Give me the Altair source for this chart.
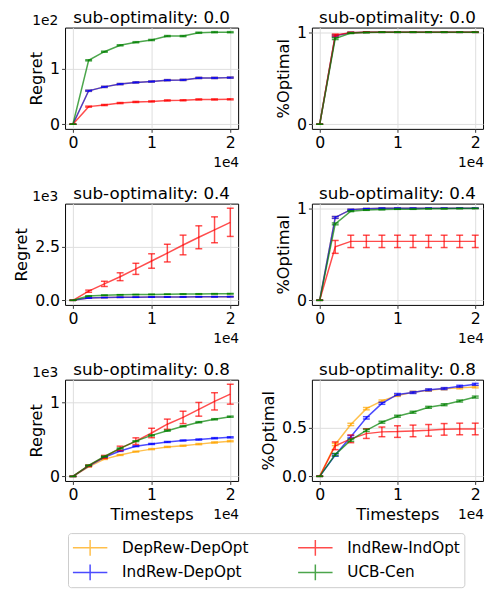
import altair as alt
import pandas as pd

# ---------------- data ----------------
T = [0, 2000, 4000, 6000, 8000, 10000, 12000, 14000, 16000, 18000, 20000]

ALGOS = ["DepRew-DepOpt", "IndRew-DepOpt", "IndRew-IndOpt", "UCB-Cen"]
ALGO_COLORS = ["#FFA500", "#0000FF", "#FF0000", "#008000"]

# sub-optimality 0.0, Regret
reg00_dep = [0, 60, 67, 72, 75, 76.6, 79, 79.5, 83, 83, 83.6]
reg00_inddep = [0, 60, 67, 72, 75, 76.6, 79, 79.5, 83, 83, 83.6]
reg00_indind = [0, 31.6, 34.5, 38, 40, 41, 42.7, 43, 44.5, 44.5, 44.7]
reg00_ucb = [0, 114.6, 130, 141.5, 147, 151, 158, 158, 164, 165, 165]
reg00_err = [0, 1, 1, 1, 1, 1, 1, 1, 1, 1, 1]

# sub-optimality 0.0, %Optimal
opt00_dep = [0, 0.96, 0.995, 1, 1, 1, 1, 1, 1, 1, 1]
opt00_inddep = [0, 0.96, 0.995, 1, 1, 1, 1, 1, 1, 1, 1]
opt00_indind = [0, 0.97, 0.995, 1, 1, 1, 1, 1, 1, 1, 1]
opt00_ucb = [0, 0.93, 0.99, 0.997, 1, 1, 1, 1, 1, 1, 1]
opt00_err = [0, 0.01, 0.005, 0.003, 0.002, 0.002, 0.002, 0.002, 0.002, 0.002, 0.002]

# sub-optimality 0.4, Regret
reg04_dep = [0, 110, 130, 140, 148, 153, 157, 161, 165, 168, 170]
reg04_inddep = [0, 110, 130, 140, 148, 153, 157, 161, 165, 168, 170]
reg04_indind = [0, 428, 770, 1105, 1473, 1840, 2210, 2590, 2950, 3300, 3650]
reg04_ucb = [0, 200, 240, 260, 270, 278, 285, 292, 298, 303, 308]
reg04_err_small = [0, 5, 6, 7, 8, 9, 10, 11, 12, 13, 14]
reg04_err_indind = [0, 50, 122, 184, 260, 338, 414, 460, 537, 606, 660]

# sub-optimality 0.4, %Optimal
opt04_dep = [0, 0.90, 0.985, 0.995, 1, 1, 1, 1, 1, 1, 1]
opt04_inddep = [0, 0.90, 0.985, 0.995, 1, 1, 1, 1, 1, 1, 1]
opt04_indind = [0, 0.58, 0.64, 0.64, 0.64, 0.64, 0.64, 0.64, 0.64, 0.64, 0.64]
opt04_ucb = [0, 0.83, 0.968, 0.98, 0.985, 0.99, 0.99, 0.995, 0.995, 0.997, 0.998]
opt04_err_small = [0, 0.01, 0.005, 0.003, 0.002, 0.002, 0.002, 0.002, 0.002, 0.002, 0.002]
opt04_err_indind = [0, 0.07, 0.067, 0.067, 0.067, 0.067, 0.067, 0.067, 0.067, 0.067, 0.067]

# sub-optimality 0.8, Regret
reg08_dep = [0, 130, 235, 290, 336, 370, 400, 416, 438, 460, 478]
reg08_inddep = [0, 140, 260, 345, 410, 440, 467, 487, 500, 518, 530]
reg08_indind = [0, 146, 265, 380, 478, 589, 708, 800, 910, 1018, 1115]
reg08_ucb = [0, 150, 270, 380, 478, 557, 620, 680, 735, 775, 810]
reg08_err_small = [0, 4, 5, 6, 6, 7, 7, 7, 8, 8, 8]
reg08_err_indind = [0, 10, 20, 30, 45, 64, 69, 84, 93, 117, 135]

# sub-optimality 0.8, %Optimal
opt08_dep = [0, 0.33, 0.537, 0.70, 0.78, 0.837, 0.87, 0.89, 0.905, 0.915, 0.925]
opt08_inddep = [0, 0.22, 0.41, 0.605, 0.755, 0.847, 0.867, 0.895, 0.908, 0.932, 0.952]
opt08_indind = [0, 0.316, 0.388, 0.442, 0.46, 0.463, 0.47, 0.476, 0.486, 0.49, 0.49]
opt08_ucb = [0, 0.225, 0.374, 0.476, 0.56, 0.622, 0.663, 0.714, 0.741, 0.779, 0.82]
opt08_err_small = [0, 0.012, 0.012, 0.012, 0.01, 0.01, 0.01, 0.01, 0.01, 0.01, 0.01]
opt08_err_indind = [0, 0.04, 0.04, 0.05, 0.05, 0.06, 0.06, 0.06, 0.06, 0.06, 0.06]

SUB_TITLES = ["sub-optimality: 0.0", "sub-optimality: 0.4", "sub-optimality: 0.8"]
Y_TITLES = ["Regret", "%Optimal"]
X_TITLE = "Timesteps"
X_OFFSET_TEXT = "1e4"
Y_OFFSET_TEXTS = ["1e2", "1e3", "1e3"]

X_TICKS = [0, 10000, 20000]
X_DOMAIN = [-1000, 21000]


def make_df(series, errs):
    rows = []
    for algo, vals, err in zip(ALGOS, series, errs):
        for t, v, e in zip(T, vals, err):
            rows.append({"algo": algo, "t": t, "mean": v, "err": e})
    return pd.DataFrame(rows)


panels_spec = [
    dict(df=make_df([reg00_dep, reg00_inddep, reg00_indind, reg00_ucb],
                    [reg00_err] * 4),
         title=SUB_TITLES[0], ytitle=Y_TITLES[0], ydom=[-8.25, 173.25], yticks=[0, 100],
         yexpr="format(datum.value/100, 'd')", yoff=Y_OFFSET_TEXTS[0], xtitle=False, col=0),
    dict(df=make_df([opt00_dep, opt00_inddep, opt00_indind, opt00_ucb],
                    [opt00_err] * 4),
         title=SUB_TITLES[0], ytitle=Y_TITLES[1], ydom=[-0.05, 1.05], yticks=[0, 1],
         yexpr="format(datum.value, 'd')", yoff=None, xtitle=False, col=1),
    dict(df=make_df([reg04_dep, reg04_inddep, reg04_indind, reg04_ucb],
                    [reg04_err_small, reg04_err_small, reg04_err_indind, reg04_err_small]),
         title=SUB_TITLES[1], ytitle=Y_TITLES[0], ydom=[-215, 4525], yticks=[0, 2500],
         yexpr="format(datum.value/1000, '.1f')", yoff=Y_OFFSET_TEXTS[1], xtitle=False, col=0),
    dict(df=make_df([opt04_dep, opt04_inddep, opt04_indind, opt04_ucb],
                    [opt04_err_small, opt04_err_small, opt04_err_indind, opt04_err_small]),
         title=SUB_TITLES[1], ytitle=Y_TITLES[1], ydom=[-0.05, 1.05], yticks=[0, 1],
         yexpr="format(datum.value, 'd')", yoff=None, xtitle=False, col=1),
    dict(df=make_df([reg08_dep, reg08_inddep, reg08_indind, reg08_ucb],
                    [reg08_err_small, reg08_err_small, reg08_err_indind, reg08_err_small]),
         title=SUB_TITLES[2], ytitle=Y_TITLES[0], ydom=[-62, 1312], yticks=[0, 1000],
         yexpr="format(datum.value/1000, 'd')", yoff=Y_OFFSET_TEXTS[2], xtitle=True, col=0),
    dict(df=make_df([opt08_dep, opt08_inddep, opt08_indind, opt08_ucb],
                    [opt08_err_small, opt08_err_small, opt08_err_indind, opt08_err_small]),
         title=SUB_TITLES[2], ytitle=Y_TITLES[1], ydom=[-0.048, 1.0], yticks=[0, 0.5],
         yexpr="format(datum.value, '.1f')", yoff=None, xtitle=True, col=1),
]

FONT = "DejaVu Sans"
COL_W = [176, 174]
ROW_H = 103

color_enc = alt.Color(
    "algo:N",
    scale=alt.Scale(domain=ALGOS, range=ALGO_COLORS),
    legend=alt.Legend(
        orient="none", legendX=3, legendY=514, columns=2, title=None,
        symbolType="M-1.75,0H1.75M0,-0.8V0.8", symbolSize=400, symbolStrokeWidth=1.5,
        symbolOffset=7.5, symbolOpacity=0.7,
        labelFontSize=15.5, labelFont=FONT, labelColor="black", labelOffset=21.5,
        strokeColor="#cccccc", cornerRadius=3, padding=4, rowPadding=3,
        columnPadding=47, fillColor="white",
    ),
)


def text_layer(txt, x, y, align, size):
    return alt.Chart(pd.DataFrame({"txt": [txt]})).mark_text(
        align=align, baseline="alphabetic", fontSize=size, font=FONT, color="black"
    ).encode(x=alt.value(x), y=alt.value(y), text="txt:N")


def build_panel(p):
    w = COL_W[p["col"]]
    x_axis_kwargs = dict(values=X_TICKS, labelExpr="format(datum.value/10000, 'd')",
                         grid=True)
    x_axis_kwargs["title"] = X_TITLE if p["xtitle"] else None
    x = alt.X("t:Q", scale=alt.Scale(domain=X_DOMAIN, nice=False, zero=False),
              axis=alt.Axis(**x_axis_kwargs))
    y = alt.Y("mean:Q", scale=alt.Scale(domain=p["ydom"], nice=False, zero=False),
              axis=alt.Axis(values=p["yticks"], labelExpr=p["yexpr"], title=p["ytitle"]))
    ylo = alt.Y("lo:Q", scale=alt.Scale(domain=p["ydom"], nice=False, zero=False))
    yhi = alt.Y("hi:Q", scale=alt.Scale(domain=p["ydom"], nice=False, zero=False))

    layers = []
    for algo in ALGOS:
        src = alt.Chart().transform_filter(alt.datum.algo == algo).transform_calculate(
            lo="datum.mean - datum.err", hi="datum.mean + datum.err")
        layers.append(src.mark_line(strokeWidth=1.5, opacity=0.7).encode(
            x=x, y=y, color=color_enc))
        layers.append(src.mark_rule(strokeWidth=1.5, opacity=0.7).encode(
            x=x, y=ylo, y2="hi:Q", color=color_enc))
        layers.append(src.mark_tick(orient="horizontal", size=7, thickness=1.5,
                                    opacity=0.7).encode(x=x, y=ylo, color=color_enc))
        layers.append(src.mark_tick(orient="horizontal", size=7, thickness=1.5,
                                    opacity=0.7).encode(x=x, y=yhi, color=color_enc))
    main = alt.layer(*layers, data=p["df"])

    extra = [
        text_layer(p["title"], w / 2, -5, "center", 17),
        text_layer(X_OFFSET_TEXT, w + 1, ROW_H + 39, "right", 14),
    ]
    if p["yoff"]:
        extra.append(text_layer(p["yoff"], -7, -3, "right", 14))

    return alt.layer(main, *extra).properties(width=w, height=ROW_H)


panels = [build_panel(p) for p in panels_spec]

chart = alt.concat(*panels, columns=2, spacing={"row": 13, "column": 20}).properties(
    padding={"left": 5, "top": -5, "right": 0, "bottom": 0}
).configure_view(
    stroke="black", strokeWidth=1
).configure_axis(
    grid=True, gridColor="#dddddd", gridWidth=1, domain=False,
    tickColor="black", tickSize=3.5, tickWidth=0.8,
    labelFontSize=16, labelColor="black", labelFont=FONT, labelPadding=2,
    titleFont=FONT, titleFontSize=16.5, titleFontWeight="normal", titleColor="black",
    titlePadding=5,
)

chart.save("out.html", embed_options={"renderer": "svg", "actions": False})
